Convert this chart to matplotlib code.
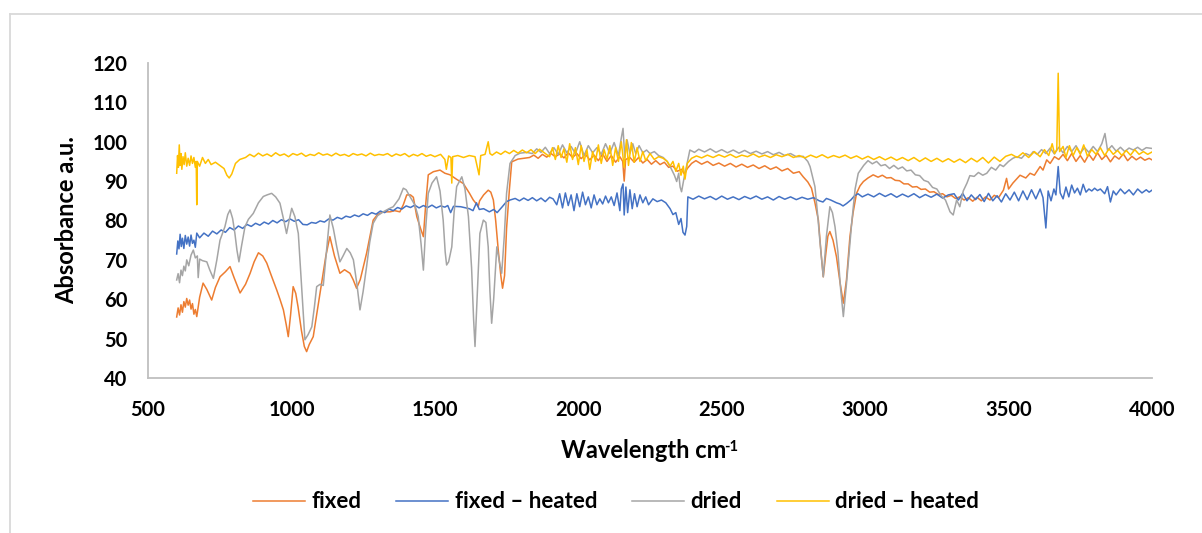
import matplotlib
matplotlib.use("Agg")
import matplotlib.pyplot as plt
from matplotlib.lines import Line2D

# ---- spectra as (wavenumber cm-1, absorbance) pairs ----
fixed_points = [
    (600, 55.5), (605, 57.8), (610, 56.0), (615, 58.6), (620, 56.7), (625, 59.4), (630, 58.0),
    (635, 60.2), (640, 58.5), (645, 59.8), (650, 57.5), (655, 58.9), (660, 56.2), (665, 57.4),
    (670, 55.6), (680, 60.5), (692, 64.1), (705, 62.5), (722, 59.8), (735, 63.0), (751, 65.7),
    (770, 67.0), (786, 68.3), (800, 65.5), (821, 61.6), (840, 63.8), (856, 66.6), (870, 69.5),
    (885, 71.8), (900, 71.0), (914, 69.2), (930, 66.0), (949, 62.3), (960, 60.0), (972, 57.3),
    (982, 53.5), (989, 50.5), (997, 56.0), (1006, 63.2), (1015, 61.5), (1023, 58.1), (1035, 52.0),
    (1045, 48.0), (1053, 46.7), (1062, 48.5), (1076, 50.5), (1090, 57.0), (1105, 64.1),
    (1120, 71.0), (1134, 75.9), (1150, 71.0), (1169, 66.6), (1185, 67.5), (1204, 66.6),
    (1215, 65.0), (1227, 62.8), (1240, 65.0), (1262, 71.7), (1285, 80.1), (1300, 81.5),
    (1320, 82.2), (1344, 82.2), (1360, 82.5), (1378, 82.2), (1390, 84.0), (1402, 86.5),
    (1415, 86.5), (1425, 85.9), (1437, 81.0), (1450, 78.0), (1460, 75.9), (1468, 84.0),
    (1477, 91.6), (1495, 92.4), (1518, 92.8), (1535, 92.0), (1553, 91.6), (1575, 90.5),
    (1599, 89.4), (1620, 87.0), (1634, 85.2), (1645, 84.2), (1651, 83.5), (1656, 85.0),
    (1670, 86.5), (1686, 87.7), (1695, 87.2), (1704, 85.2), (1712, 80.0), (1721, 72.5),
    (1730, 66.0), (1736, 62.8), (1743, 66.0), (1750, 78.0), (1760, 88.0), (1768, 94.9),
    (1790, 95.6), (1830, 96.0), (1845, 96.6), (1860, 95.8), (1875, 96.8), (1890, 96.1),
    (1905, 97.0), (1920, 96.2), (1935, 96.9), (1950, 95.9), (1965, 97.2), (1980, 96.0),
    (1995, 97.0), (2010, 95.7), (2025, 96.8), (2040, 95.4), (2055, 96.6), (2070, 95.2),
    (2085, 96.9), (2100, 95.0), (2115, 96.5), (2130, 94.8), (2145, 96.2), (2155, 95.0),
    (2160, 90.0), (2165, 95.5), (2180, 96.0), (2195, 94.8), (2210, 96.0), (2225, 94.6),
    (2240, 95.5), (2255, 94.3), (2270, 95.2), (2285, 94.2), (2300, 94.8), (2315, 93.5),
    (2330, 93.8), (2345, 92.5), (2360, 93.0), (2370, 91.8), (2380, 93.2), (2395, 94.5),
    (2410, 95.2), (2430, 94.3), (2450, 95.0), (2470, 94.0), (2490, 94.6), (2510, 93.8),
    (2530, 94.5), (2550, 93.6), (2570, 94.3), (2590, 93.5), (2610, 94.1), (2630, 93.2),
    (2650, 93.9), (2670, 93.0), (2690, 93.6), (2710, 92.6), (2730, 93.2), (2750, 92.0),
    (2770, 92.4), (2784, 91.1), (2800, 89.8), (2813, 88.2), (2825, 84.5), (2837, 80.1),
    (2846, 72.0), (2854, 65.7), (2862, 71.0), (2870, 76.0), (2877, 77.2), (2888, 75.0),
    (2900, 70.8), (2912, 64.5), (2924, 59.0), (2935, 65.0), (2947, 75.9), (2958, 82.0),
    (2970, 86.9), (2982, 88.8), (2994, 89.9), (3010, 90.8), (3028, 91.6), (3045, 91.0),
    (3060, 91.5), (3075, 90.8), (3090, 90.9), (3105, 90.2), (3120, 90.1), (3135, 89.3),
    (3150, 89.3), (3165, 88.5), (3180, 88.6), (3195, 87.9), (3210, 88.0), (3225, 87.2),
    (3240, 87.3), (3255, 86.6), (3270, 86.8), (3285, 86.0), (3300, 86.4), (3315, 85.6),
    (3330, 86.0), (3345, 85.2), (3360, 85.8), (3375, 84.9), (3390, 85.9), (3405, 85.0),
    (3420, 86.0), (3435, 85.2), (3450, 86.4), (3465, 85.8), (3482, 87.7), (3493, 90.7),
    (3500, 88.0), (3515, 89.5), (3540, 91.5), (3560, 90.8), (3575, 92.0), (3590, 91.5),
    (3610, 93.7), (3620, 92.8), (3633, 95.4), (3645, 94.5), (3660, 96.2), (3675, 95.5),
    (3690, 96.8), (3705, 95.2), (3720, 97.0), (3735, 95.0), (3750, 96.5), (3765, 94.8),
    (3780, 96.8), (3795, 95.3), (3810, 97.2), (3825, 95.5), (3840, 96.6), (3855, 94.9),
    (3870, 96.4), (3885, 95.6), (3900, 96.9), (3915, 95.2), (3930, 96.3), (3945, 95.4),
    (3960, 96.1), (3975, 95.3), (3990, 95.8), (4000, 95.4),
]

fixed_heated_points = [
    (600, 71.5), (604, 74.8), (608, 72.8), (612, 76.5), (616, 73.4), (620, 75.5), (625, 72.9),
    (630, 76.2), (635, 74.0), (640, 75.8), (645, 73.5), (650, 76.3), (655, 74.2), (660, 75.0),
    (665, 73.2), (670, 76.8), (680, 75.6), (695, 76.8), (710, 76.0), (725, 77.3), (740, 76.6),
    (755, 77.6), (770, 77.0), (785, 78.2), (800, 77.6), (815, 78.6), (830, 78.0), (845, 79.0),
    (860, 78.5), (875, 79.3), (890, 78.8), (905, 79.6), (920, 79.1), (935, 80.0), (950, 79.4),
    (965, 80.2), (980, 79.7), (995, 80.4), (1010, 79.8), (1025, 80.2), (1040, 79.0), (1055, 78.9),
    (1070, 79.5), (1085, 79.3), (1100, 79.9), (1115, 79.6), (1130, 80.4), (1145, 80.1),
    (1160, 80.8), (1175, 80.4), (1190, 81.1), (1205, 80.8), (1220, 81.4), (1235, 81.0),
    (1250, 81.7), (1265, 81.3), (1280, 82.0), (1295, 81.6), (1310, 82.4), (1325, 82.0),
    (1340, 82.9), (1355, 82.5), (1370, 83.3), (1385, 82.9), (1400, 83.7), (1415, 83.3),
    (1430, 83.9), (1445, 83.2), (1460, 83.8), (1475, 83.3), (1490, 83.9), (1505, 83.2),
    (1520, 83.7), (1535, 83.4), (1545, 83.8), (1555, 82.0), (1565, 83.6), (1590, 83.5),
    (1620, 83.0), (1633, 82.5), (1645, 84.5), (1655, 82.8), (1670, 83.0), (1690, 82.2),
    (1705, 82.8), (1717, 82.0), (1735, 83.5), (1750, 84.8), (1762, 85.2), (1780, 85.6),
    (1795, 85.0), (1810, 85.7), (1825, 85.1), (1840, 85.8), (1855, 85.0), (1870, 85.7),
    (1885, 84.8), (1900, 85.9), (1912, 85.5), (1925, 84.0), (1935, 86.8), (1945, 83.2),
    (1955, 87.0), (1965, 83.8), (1975, 86.5), (1985, 82.5), (1995, 86.8), (2005, 83.5),
    (2015, 87.2), (2025, 84.0), (2035, 86.0), (2045, 83.2), (2055, 86.5), (2065, 84.0),
    (2075, 85.5), (2085, 84.2), (2095, 86.2), (2105, 84.5), (2115, 86.0), (2125, 83.8),
    (2135, 87.0), (2145, 82.5), (2150, 88.0), (2156, 89.3), (2160, 81.4), (2166, 88.5),
    (2172, 82.0), (2180, 87.8), (2188, 83.0), (2196, 86.8), (2205, 83.5), (2215, 86.5),
    (2225, 84.5), (2235, 86.0), (2245, 84.0), (2260, 85.5), (2275, 84.8), (2290, 85.2),
    (2305, 84.5), (2320, 83.0), (2330, 81.5), (2340, 82.0), (2350, 79.0), (2358, 80.5),
    (2365, 77.0), (2372, 76.3), (2378, 78.5), (2382, 86.0), (2400, 85.4), (2420, 86.2),
    (2440, 85.5), (2460, 86.1), (2480, 85.3), (2500, 86.2), (2520, 85.4), (2540, 86.0),
    (2560, 85.3), (2580, 86.1), (2600, 85.5), (2620, 86.2), (2640, 85.4), (2660, 86.0),
    (2680, 85.2), (2700, 86.1), (2720, 85.4), (2740, 86.0), (2760, 85.3), (2780, 85.9),
    (2800, 85.4), (2820, 85.8), (2840, 85.0), (2853, 84.7), (2865, 85.6), (2880, 85.2),
    (2900, 84.5), (2912, 84.2), (2923, 83.7), (2935, 84.3), (2950, 85.2), (2962, 86.2),
    (2975, 86.8), (2990, 86.0), (3010, 86.7), (3030, 86.0), (3050, 86.9), (3070, 86.1),
    (3090, 86.8), (3110, 85.9), (3130, 86.7), (3150, 86.0), (3170, 86.8), (3190, 85.8),
    (3210, 86.6), (3230, 85.9), (3250, 86.7), (3270, 85.7), (3290, 86.5), (3310, 86.8),
    (3325, 85.2), (3340, 86.9), (3355, 85.0), (3370, 86.5), (3385, 85.3), (3400, 86.6),
    (3415, 84.8), (3430, 86.9), (3445, 85.0), (3460, 86.3), (3475, 84.7), (3490, 86.8),
    (3505, 85.2), (3520, 87.2), (3535, 85.0), (3550, 87.5), (3565, 85.3), (3580, 87.8),
    (3595, 85.5), (3610, 88.0), (3620, 85.8), (3630, 78.1), (3638, 87.5), (3648, 85.0),
    (3658, 88.0), (3665, 86.5), (3673, 93.7), (3680, 87.0), (3690, 85.5), (3700, 88.5),
    (3710, 86.0), (3720, 89.0), (3730, 87.0), (3740, 88.2), (3750, 86.5), (3760, 89.2),
    (3770, 87.2), (3780, 88.0), (3790, 87.5), (3800, 88.2), (3810, 87.6), (3820, 88.0),
    (3835, 86.8), (3845, 88.6), (3855, 84.7), (3865, 87.5), (3875, 86.5), (3890, 88.0),
    (3905, 86.8), (3920, 87.8), (3935, 86.5), (3950, 88.0), (3965, 87.0), (3980, 87.8),
    (3990, 87.2), (4000, 87.7),
]

dried_points = [
    (600, 64.9), (605, 66.5), (610, 64.2), (615, 67.4), (620, 66.0), (625, 68.4), (630, 67.2),
    (635, 70.0), (642, 68.5), (650, 71.2), (658, 72.5), (665, 70.5), (672, 71.0), (675, 65.5),
    (680, 70.2), (690, 69.8), (705, 69.5), (715, 67.5), (728, 65.3), (740, 70.0), (751, 75.0),
    (768, 78.4), (778, 81.5), (786, 82.7), (795, 80.5), (803, 76.7), (810, 72.5), (817, 69.5),
    (826, 73.5), (838, 78.4), (850, 80.3), (867, 81.8), (885, 84.5), (902, 86.1), (915, 86.5),
    (931, 86.9), (945, 86.0), (960, 84.4), (972, 80.5), (983, 76.7), (992, 80.0), (1001, 83.1),
    (1012, 81.0), (1024, 76.7), (1035, 64.0), (1047, 49.7), (1058, 51.0), (1071, 53.0),
    (1080, 58.0), (1088, 63.2), (1100, 63.8), (1111, 63.5), (1122, 72.0), (1134, 81.4),
    (1146, 78.0), (1158, 73.3), (1169, 69.5), (1180, 71.0), (1193, 72.9), (1205, 71.8),
    (1216, 70.0), (1228, 64.0), (1239, 57.3), (1250, 62.0), (1262, 68.3), (1273, 74.5),
    (1285, 79.3), (1300, 81.2), (1320, 82.2), (1340, 83.0), (1355, 83.5), (1375, 85.5),
    (1390, 88.2), (1400, 87.8), (1413, 86.1), (1430, 84.0), (1442, 81.0), (1452, 74.0),
    (1460, 67.4), (1468, 78.0), (1477, 86.9), (1490, 89.5), (1506, 91.1), (1518, 87.5),
    (1529, 80.1), (1536, 72.0), (1541, 68.7), (1548, 69.5), (1559, 73.3), (1567, 82.0),
    (1576, 88.6), (1594, 91.1), (1605, 88.0), (1617, 81.0), (1628, 68.0), (1635, 55.0),
    (1640, 48.0), (1646, 58.0), (1657, 76.7), (1669, 80.1), (1678, 79.5), (1686, 73.3),
    (1692, 62.0), (1698, 53.9), (1705, 60.0), (1716, 73.3), (1725, 69.5), (1733, 66.6),
    (1742, 76.0), (1750, 86.9), (1762, 94.5), (1780, 96.5), (1797, 97.1), (1820, 97.3),
    (1840, 97.0), (1855, 98.2), (1870, 97.3), (1885, 98.6), (1900, 97.0), (1915, 98.5),
    (1930, 96.8), (1945, 99.2), (1960, 97.2), (1975, 98.8), (1990, 97.0), (2005, 100.0),
    (2020, 96.5), (2035, 99.0), (2050, 97.2), (2065, 98.5), (2080, 96.8), (2095, 99.5),
    (2110, 97.0), (2125, 99.8), (2140, 96.5), (2150, 101.0), (2156, 103.4), (2162, 96.0),
    (2170, 100.5), (2180, 97.0), (2190, 99.5), (2200, 97.0), (2212, 99.0), (2225, 97.2),
    (2238, 97.9), (2250, 97.0), (2265, 97.5), (2280, 96.5), (2296, 96.0), (2310, 95.0),
    (2325, 93.0), (2335, 91.5), (2343, 89.9), (2350, 92.0), (2355, 88.5), (2360, 87.3),
    (2368, 90.5), (2378, 94.0), (2389, 97.9), (2405, 97.3), (2420, 98.1), (2440, 97.4),
    (2460, 98.2), (2480, 97.3), (2500, 98.0), (2520, 97.2), (2540, 97.9), (2560, 97.1),
    (2580, 97.8), (2600, 97.0), (2620, 97.6), (2640, 96.9), (2660, 97.5), (2680, 96.7),
    (2700, 97.3), (2720, 96.5), (2740, 97.0), (2760, 96.2), (2784, 96.3), (2800, 95.0),
    (2808, 93.7), (2825, 88.6), (2835, 81.0), (2842, 75.0), (2854, 65.7), (2865, 76.0),
    (2877, 83.5), (2886, 82.0), (2895, 78.4), (2905, 72.0), (2914, 63.0), (2924, 55.6),
    (2935, 64.0), (2953, 79.3), (2965, 88.0), (2976, 92.0), (2995, 94.0), (3010, 95.2),
    (3025, 94.4), (3040, 95.0), (3055, 93.9), (3070, 94.2), (3085, 93.2), (3100, 94.0),
    (3115, 93.1), (3130, 93.6), (3145, 92.6), (3160, 92.8), (3175, 91.6), (3190, 91.4),
    (3205, 90.2), (3220, 89.8), (3235, 88.4), (3250, 88.0), (3265, 86.3), (3280, 85.2),
    (3296, 82.2), (3307, 81.4), (3319, 85.2), (3330, 83.5), (3342, 87.5), (3355, 89.5),
    (3365, 91.4), (3380, 91.2), (3395, 92.2), (3410, 91.5), (3424, 92.0), (3440, 93.5),
    (3455, 92.8), (3470, 94.2), (3482, 93.7), (3500, 95.0), (3515, 95.8), (3528, 96.2),
    (3545, 95.8), (3560, 97.0), (3575, 96.5), (3586, 97.5), (3600, 96.8), (3615, 98.0),
    (3630, 97.0), (3645, 98.4), (3660, 96.9), (3675, 98.6), (3690, 97.2), (3705, 98.8),
    (3720, 97.5), (3735, 99.0), (3750, 97.1), (3765, 98.5), (3780, 97.3), (3795, 98.8),
    (3810, 97.5), (3825, 99.5), (3836, 102.1), (3845, 97.8), (3860, 99.0), (3875, 97.6),
    (3890, 98.6), (3905, 97.5), (3920, 98.4), (3935, 97.9), (3950, 98.6), (3965, 97.8),
    (3980, 98.5), (4000, 98.3),
]

dried_heated_points = [
    (600, 92.0), (603, 96.5), (606, 93.5), (609, 99.2), (612, 94.0), (615, 97.0), (618, 93.0),
    (622, 96.2), (626, 94.2), (630, 97.2), (635, 93.8), (640, 95.8), (645, 94.0), (650, 96.4),
    (655, 94.5), (660, 96.0), (665, 93.5), (668, 95.0), (670, 84.0), (672, 95.0), (680, 93.8),
    (690, 96.0), (700, 94.5), (710, 95.5), (720, 94.2), (735, 94.8), (750, 94.0), (765, 93.2),
    (775, 91.5), (783, 90.8), (792, 91.8), (805, 94.5), (820, 95.5), (840, 96.0), (855, 96.8),
    (870, 96.2), (885, 97.1), (900, 96.4), (915, 96.9), (930, 96.3), (945, 97.2), (960, 96.5),
    (975, 96.9), (990, 96.2), (1005, 97.0), (1020, 96.6), (1035, 97.1), (1050, 96.3),
    (1065, 96.8), (1080, 96.5), (1095, 97.2), (1110, 96.6), (1125, 96.9), (1140, 96.4),
    (1155, 97.1), (1170, 96.5), (1185, 96.8), (1200, 96.3), (1215, 97.0), (1230, 96.6),
    (1245, 96.9), (1260, 96.4), (1275, 97.1), (1290, 96.5), (1305, 96.8), (1320, 96.6),
    (1335, 97.0), (1350, 96.3), (1365, 96.9), (1380, 96.5), (1395, 97.0), (1410, 96.2),
    (1425, 96.8), (1440, 96.4), (1455, 97.0), (1470, 96.3), (1485, 96.7), (1500, 96.2),
    (1520, 96.8), (1535, 95.5), (1540, 93.0), (1548, 96.4), (1556, 96.0), (1559, 89.5),
    (1562, 96.2), (1580, 96.5), (1600, 96.0), (1620, 96.5), (1640, 96.2), (1654, 91.6),
    (1660, 96.5), (1675, 96.8), (1686, 100.0), (1692, 97.0), (1700, 96.6), (1715, 97.4),
    (1730, 96.8), (1745, 97.6), (1760, 97.0), (1775, 97.8), (1790, 97.1), (1805, 97.9),
    (1820, 97.2), (1835, 98.0), (1850, 97.0), (1865, 98.1), (1880, 97.3), (1900, 96.2),
    (1910, 98.5), (1920, 95.5), (1930, 99.0), (1940, 96.0), (1950, 98.2), (1960, 94.8),
    (1970, 99.5), (1980, 95.5), (1990, 98.5), (2000, 94.2), (2010, 99.0), (2020, 95.0),
    (2030, 98.0), (2040, 93.0), (2050, 97.5), (2060, 95.0), (2070, 99.2), (2080, 94.5),
    (2090, 98.0), (2100, 95.5), (2110, 99.0), (2120, 94.0), (2130, 98.5), (2140, 95.0),
    (2150, 100.0), (2160, 93.5), (2168, 100.5), (2175, 94.0), (2185, 99.8), (2195, 94.8),
    (2205, 98.5), (2215, 95.0), (2225, 97.5), (2235, 95.2), (2250, 97.0), (2265, 95.5),
    (2280, 96.2), (2296, 95.8), (2310, 95.0), (2320, 93.8), (2330, 95.0), (2340, 92.5),
    (2350, 94.5), (2358, 91.5), (2366, 93.8), (2372, 90.5), (2380, 94.5), (2395, 95.8),
    (2412, 96.4), (2430, 95.9), (2450, 96.6), (2470, 96.0), (2490, 96.7), (2510, 96.1),
    (2530, 96.8), (2550, 96.0), (2570, 96.6), (2590, 96.2), (2610, 96.9), (2630, 96.1),
    (2650, 96.6), (2670, 96.0), (2690, 96.7), (2710, 96.2), (2730, 96.8), (2750, 96.0),
    (2770, 96.5), (2790, 95.9), (2810, 96.6), (2830, 96.0), (2850, 96.7), (2870, 95.9),
    (2890, 96.5), (2910, 96.0), (2930, 96.6), (2950, 95.8), (2970, 96.4), (2990, 95.6),
    (3010, 96.3), (3030, 95.5), (3050, 96.2), (3070, 95.4), (3090, 96.1), (3110, 95.3),
    (3130, 96.0), (3150, 95.2), (3170, 96.0), (3190, 95.0), (3210, 95.9), (3230, 95.0),
    (3250, 95.8), (3270, 94.9), (3290, 95.7), (3310, 94.8), (3330, 95.6), (3350, 94.7),
    (3370, 95.8), (3390, 94.9), (3410, 96.0), (3430, 94.6), (3450, 96.1), (3470, 95.0),
    (3490, 96.3), (3510, 96.8), (3530, 96.0), (3550, 97.2), (3570, 96.0), (3590, 97.5),
    (3610, 96.2), (3625, 98.0), (3640, 96.5), (3652, 99.5), (3660, 97.0), (3668, 98.0),
    (3673, 117.4), (3678, 97.5), (3690, 98.8), (3700, 96.0), (3712, 99.0), (3725, 96.5),
    (3738, 98.5), (3750, 96.8), (3762, 99.2), (3775, 96.3), (3790, 98.0), (3805, 96.8),
    (3820, 98.5), (3835, 96.5), (3850, 98.2), (3865, 96.8), (3880, 97.8), (3895, 96.5),
    (3910, 97.8), (3925, 96.6), (3940, 98.0), (3955, 96.8), (3970, 97.5), (3985, 96.8),
    (4000, 97.4),
]

series_labels = ["fixed", "fixed \u2013 heated", "dried", "dried \u2013 heated"]
series_colors = ["#ED7D31", "#4472C4", "#A5A5A5", "#FFC000"]
x_ticks = [500, 1000, 1500, 2000, 2500, 3000, 3500, 4000]
y_ticks = [40, 50, 60, 70, 80, 90, 100, 110, 120]

plt.rcParams["font.family"] = ["Lato", "DejaVu Sans"]
plt.rcParams["font.weight"] = "bold"

W, H = 1202, 533
fig = plt.figure(figsize=(W / 100, H / 100), dpi=100)
ax = fig.add_axes([148 / W, 1 - 378 / H, (1152 - 148) / W, (378 - 63) / H])

for pts, lab, col in zip([fixed_points, fixed_heated_points, dried_points, dried_heated_points],
                         series_labels, series_colors):
    xs, ys = zip(*sorted(pts))
    ax.plot(xs, ys, color=col, lw=1.1, label=lab, solid_joinstyle="round")

ax.set_xlim(500, 4000)
ax.set_ylim(40, 120)
ax.set_xticks(x_ticks)
ax.set_yticks(y_ticks)
ax.tick_params(axis="both", length=0, labelsize=14.5, colors="black")
ax.tick_params(axis="y", pad=15)
ax.tick_params(axis="x", pad=16)
for lbl in ax.get_xticklabels() + ax.get_yticklabels():
    lbl.set_fontweight("bold")

for side in ("top", "right"):
    ax.spines[side].set_visible(False)
for side in ("left", "bottom"):
    ax.spines[side].set_color("#BFBFBF")
    ax.spines[side].set_linewidth(1.3)

# axis titles; the x title carries a small raised "-1"
xt = fig.text(644 / W, 1 - 450 / H, "Wavelength cm", ha="center", va="center",
              fontsize=17, fontweight="bold")
ax.annotate("-1", xy=(1.0, 1.0), xycoords=xt, xytext=(-1.5, -1), textcoords="offset points",
            ha="left", va="top", fontsize=10.5, fontweight="bold", annotation_clip=False)
fig.text(67 / W, 1 - 220 / H, "Absorbance a.u.", ha="center", va="center", rotation=90,
         fontsize=17, fontweight="bold")

fig.legend(loc="center", bbox_to_anchor=(616 / W, 1 - 502 / H), ncol=4, frameon=False,
           handlelength=2.35, handletextpad=0.3, columnspacing=1.55,
           prop={"weight": "bold", "size": 16})

# outer chart frame
fig.add_artist(Line2D([10 / W, 1.0], [1 - 14 / H, 1 - 14 / H], transform=fig.transFigure,
                      color="#D9D9D9", lw=1.3))
fig.add_artist(Line2D([10 / W, 10 / W], [0.0, 1 - 14 / H], transform=fig.transFigure,
                      color="#D9D9D9", lw=1.3))

fig.savefig("out.png", dpi=100, facecolor="white")
